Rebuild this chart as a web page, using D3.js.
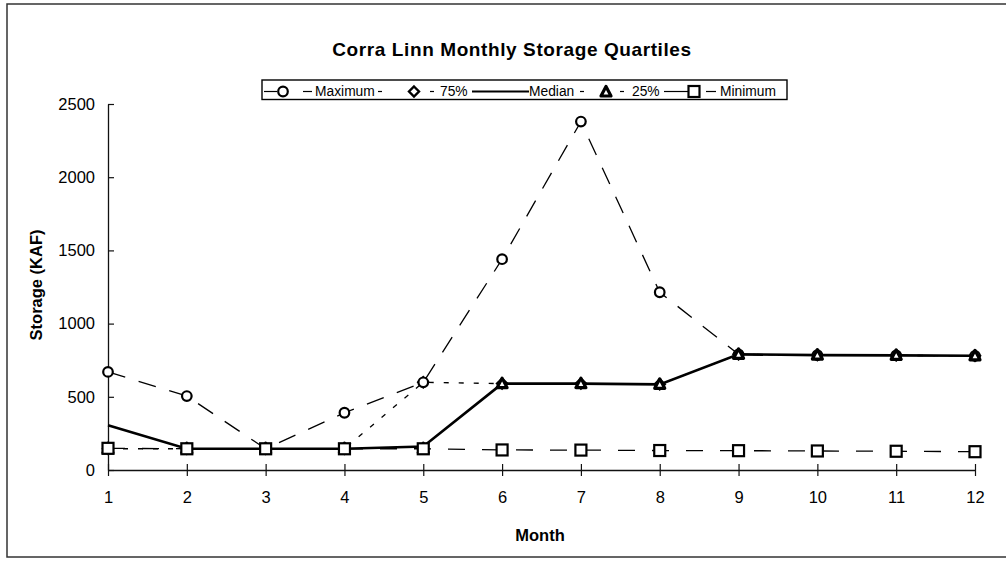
<!DOCTYPE html>
<html lang="en">
<head>
<meta charset="UTF-8">
<title>Corra Linn Monthly Storage Quartiles</title>
<script src="https://cdnjs.cloudflare.com/ajax/libs/d3/7.8.5/d3.min.js"></script>
<style>
  body { margin: 0; background: #fff; }
  svg { display: block; font-family: "Liberation Sans", Arial, sans-serif; }
</style>
</head>
<body>
<svg id="viz"></svg>
<script>
const months = [1, 2, 3, 4, 5, 6, 7, 8, 9, 10, 11, 12];
const maximum = [670, 505, 145, 391, 599, 1440, 2380, 1214, 790, 785, 783, 780];
const p75 = [145, 145, 145, 145, 599, 590, 590, 585, 790, 785, 783, 780];
const median = [305, 145, 145, 145, 160, 590, 590, 585, 790, 785, 783, 780];
const p25 = [145, 145, 145, 145, 145, 590, 590, 585, 790, 785, 783, 780];
const minimum = [148, 145, 145, 145, 145, 137, 136, 133, 132, 130, 128, 125];
const yTicks = [0, 500, 1000, 1500, 2000, 2500];

const width = 1006, height = 561;
const svg = d3.select('#viz').attr('width', width).attr('height', height);

// outer frame
svg.append('rect')
  .attr('x', 7).attr('y', 4).attr('width', 1010).attr('height', 553)
  .attr('fill', 'none').attr('stroke', '#333').attr('stroke-width', 1.5);

const x = d3.scaleLinear().domain([1, 12]).range([108, 975]);
const y = d3.scaleLinear().domain([0, 2500]).range([470, 104]);

svg.append('text')
  .attr('x', 512).attr('y', 56)
  .attr('text-anchor', 'middle')
  .attr('font-size', 19).attr('font-weight', 'bold')
  .attr('letter-spacing', 0.6)
  .text('Corra Linn Monthly Storage Quartiles');

// axes with crossing ticks
const yAxis = svg.append('g').attr('transform', 'translate(108,0)')
  .call(d3.axisLeft(y).tickValues(yTicks).tickFormat(d3.format('d')).tickSize(6).tickPadding(7).tickSizeOuter(0));
yAxis.selectAll('.tick line').attr('x2', 6);
const xAxis = svg.append('g').attr('transform', 'translate(0,470)')
  .call(d3.axisBottom(x).tickValues(months).tickFormat(d3.format('d')).tickSize(6).tickPadding(15).tickSizeOuter(0));
xAxis.selectAll('.tick line').attr('y1', -6);
svg.selectAll('.domain').attr('stroke', '#111').attr('stroke-width', 1.3);
svg.selectAll('.tick line').attr('stroke', '#111').attr('stroke-width', 1.2);
svg.selectAll('.tick text').attr('font-size', 16.5).attr('fill', '#000')
  .attr('font-family', '"Liberation Sans", Arial, sans-serif');

svg.append('text')
  .attr('transform', 'translate(42,285) rotate(-90)')
  .attr('text-anchor', 'middle')
  .attr('font-size', 16.5).attr('font-weight', 'bold')
  .text('Storage (KAF)');
svg.append('text')
  .attr('x', 540).attr('y', 541)
  .attr('text-anchor', 'middle')
  .attr('font-size', 16.5).attr('font-weight', 'bold')
  .text('Month');

const series = [
  { name: 'Maximum', values: maximum, dash: '18,14', width: 1.3, marker: 'circle' },
  { name: '75%', values: p75, dash: '5,10', width: 1.3, marker: 'diamond' },
  { name: 'Median', values: median, dash: null, width: 2.6, marker: null },
  { name: '25%', values: p25, dash: null, width: 2.6, marker: 'triangle' },
  { name: 'Minimum', values: minimum, dash: '17,17', width: 1.3, marker: 'square' }
];

const line = d3.line().x((d, i) => x(months[i])).y(d => y(d));

series.forEach(s => {
  if (s.name === '25%') return; // hidden behind median line
  svg.append('path')
    .attr('d', line(s.values))
    .attr('fill', 'none')
    .attr('stroke', '#000')
    .attr('stroke-width', s.width)
    .attr('stroke-dasharray', s.dash);
});

function drawMarker(g, type, cx, cy) {
  if (type === 'circle') {
    g.append('circle').attr('cx', cx).attr('cy', cy).attr('r', 4.8)
      .attr('fill', '#fff').attr('stroke', '#000').attr('stroke-width', 2.2);
  } else if (type === 'square') {
    g.append('rect').attr('x', cx - 5.5).attr('y', cy - 5.5).attr('width', 11).attr('height', 11)
      .attr('fill', '#fff').attr('stroke', '#000').attr('stroke-width', 2.2);
  } else if (type === 'triangle') {
    g.append('path').attr('d', `M${cx},${cy - 5.5}L${cx + 5},${cy + 4}L${cx - 5},${cy + 4}Z`)
      .attr('fill', '#fff').attr('stroke', '#000').attr('stroke-width', 3.2)
      .attr('stroke-linejoin', 'round');
  } else if (type === 'diamond') {
    g.append('path').attr('d', `M${cx},${cy - 5}L${cx + 5},${cy}L${cx},${cy + 5}L${cx - 5},${cy}Z`)
      .attr('fill', '#fff').attr('stroke', '#000').attr('stroke-width', 2.4);
  }
}

const markerOrder = ['75%', 'Maximum', '25%', 'Minimum'];
const markers = svg.append('g');
markerOrder.forEach(n => {
  const s = series.find(d => d.name === n);
  s.values.forEach((v, i) => drawMarker(markers, s.marker, x(months[i]), y(v)));
});

// legend
const lg = svg.append('g');
lg.append('rect').attr('x', 262).attr('y', 80).attr('width', 525).attr('height', 19.5)
  .attr('fill', '#fff').attr('stroke', '#000').attr('stroke-width', 1.4);
const ly = 91.5;
function seg(x1, x2, w) {
  lg.append('line').attr('x1', x1).attr('x2', x2).attr('y1', ly).attr('y2', ly)
    .attr('stroke', '#000').attr('stroke-width', w || 1.2);
}
function label(tx, t) {
  lg.append('text').attr('x', tx).attr('y', 96).attr('font-size', 13.8).text(t);
}
seg(264, 277); drawMarker(lg, 'circle', 283, ly); seg(303, 312); label(315, 'Maximum');
seg(378, 382); drawMarker(lg, 'diamond', 414, ly); seg(430, 434); label(440, '75%');
seg(472, 529, 1.8); label(529, 'Median');
seg(580, 584); drawMarker(lg, 'triangle', 606, ly + 0.5); seg(620, 624); label(632, '25%');
seg(664, 688); drawMarker(lg, 'square', 694, ly); seg(706, 716); label(720, 'Minimum');
</script>
</body>
</html>
